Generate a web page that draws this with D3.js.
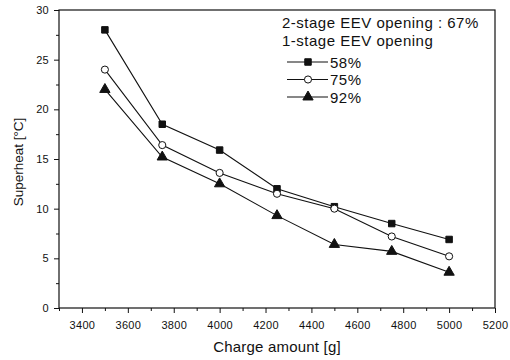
<!DOCTYPE html>
<html>
<head>
<meta charset="utf-8">
<script src="https://cdn.jsdelivr.net/npm/d3@7"></script>
<style>
  body { margin: 0; background: #fff; }
  text { font-family: "Liberation Sans", Arial, sans-serif; fill: #111; }
</style>
</head>
<body>
<div id="chart"></div>
<script>
// data
var charge = [3500, 3750, 4000, 4250, 4500, 4750, 5000];
var sh58 = [28.0, 18.5, 15.9, 12.0, 10.2, 8.5, 6.9];
var sh75 = [24.0, 16.4, 13.6, 11.5, 10.0, 7.2, 5.2];
var sh92 = [22.0, 15.2, 12.5, 9.3, 6.4, 5.7, 3.6];
var seriesNames = ["58%", "75%", "92%"];
var xTicks = [3400, 3600, 3800, 4000, 4200, 4400, 4600, 4800, 5000, 5200];
var yTicks = [0, 5, 10, 15, 20, 25, 30];

var W = 510, H = 360;
var margin = {top: 10, right: 15, bottom: 52, left: 59};
var width = W - margin.left - margin.right;
var height = H - margin.top - margin.bottom;

var svg = d3.select("#chart").append("svg")
    .attr("width", W)
    .attr("height", H);

var g = svg.append("g")
    .attr("transform", "translate(" + margin.left + "," + margin.top + ")");

var x = d3.scaleLinear().domain([3300, 5200]).range([0, width]);
var y = d3.scaleLinear().domain([0, 30]).range([height, 0]);

// frame
g.append("rect")
    .attr("width", width)
    .attr("height", height)
    .attr("fill", "none")
    .attr("stroke", "#111")
    .attr("stroke-width", 1.2);

// minor ticks
var xMinor = d3.range(3300, 5201, 100).filter(function (d) { return d % 200 !== 0; });
var yMinor = d3.range(2.5, 30, 5);

g.append("g")
    .attr("transform", "translate(0," + height + ")")
    .call(d3.axisBottom(x).tickValues(xMinor).tickSize(3).tickFormat(""))
    .call(function (a) { a.select(".domain").remove(); });

g.append("g")
    .call(d3.axisLeft(y).tickValues(yMinor).tickSize(3).tickFormat(""))
    .call(function (a) { a.select(".domain").remove(); });

// major axes
var xAxis = g.append("g")
    .attr("transform", "translate(0," + height + ")")
    .call(d3.axisBottom(x).tickValues(xTicks).tickSize(5).tickPadding(8).tickFormat(d3.format("d")));

var yAxis = g.append("g")
    .call(d3.axisLeft(y).tickValues(yTicks).tickSize(5).tickPadding(5));

[xAxis, yAxis].forEach(function (a) {
    a.select(".domain").remove();
    a.selectAll("text")
        .attr("font-size", "11px")
        .attr("letter-spacing", "0.3px")
        .attr("font-family", "'Liberation Sans', Arial, sans-serif")
        .attr("fill", "#222");
});
g.selectAll(".tick line").attr("stroke", "#111");

// lines and markers
var data = [sh58, sh75, sh92];
var line = d3.line()
    .x(function (d, i) { return x(charge[i]); })
    .y(function (d) { return y(d); });

var symbols = [d3.symbolSquare, d3.symbolCircle, d3.symbolTriangle];
var fills = ["#111", "#fff", "#111"];
var sizes = [42, 40, 46];

data.forEach(function (s, k) {
    g.append("path")
        .datum(s)
        .attr("fill", "none")
        .attr("stroke", "#111")
        .attr("stroke-width", 1.1)
        .attr("d", line);

    g.selectAll(".m" + k)
        .data(s)
        .enter().append("path")
        .attr("class", "m" + k)
        .attr("transform", function (d, i) {
            return "translate(" + x(charge[i]) + "," + y(d) + ")";
        })
        .attr("d", d3.symbol().type(symbols[k]).size(sizes[k]))
        .attr("fill", fills[k])
        .attr("stroke", "#111")
        .attr("stroke-width", 1);
});

// legend
var leg = svg.append("g")
    .attr("font-size", "15px")
    .attr("letter-spacing", "0.5px");
leg.append("text")
    .attr("x", 282).attr("y", 28)
    .text("2-stage EEV opening : 67%");
leg.append("text")
    .attr("x", 282).attr("y", 46)
    .text("1-stage EEV opening");

seriesNames.forEach(function (name, k) {
    var ly = 62 + k * 17.5;
    leg.append("line")
        .attr("x1", 287).attr("x2", 328)
        .attr("y1", ly).attr("y2", ly)
        .attr("stroke", "#111")
        .attr("stroke-width", 1.1);
    leg.append("path")
        .attr("transform", "translate(308," + ly + ")")
        .attr("d", d3.symbol().type(symbols[k]).size(sizes[k]))
        .attr("fill", fills[k])
        .attr("stroke", "#111");
    leg.append("text")
        .attr("x", 330).attr("y", ly + 5.5)
        .text(name);
});

// axis titles
svg.append("text")
    .attr("x", 277)
    .attr("y", 352)
    .attr("text-anchor", "middle")
    .attr("font-size", "15px")
    .attr("letter-spacing", "0.2px")
    .text("Charge amount [g]");

svg.append("text")
    .attr("transform", "translate(23,162) rotate(-90)")
    .attr("text-anchor", "middle")
    .attr("font-size", "13.5px")
    .text("Superheat [°C]");
</script>
</body>
</html>
